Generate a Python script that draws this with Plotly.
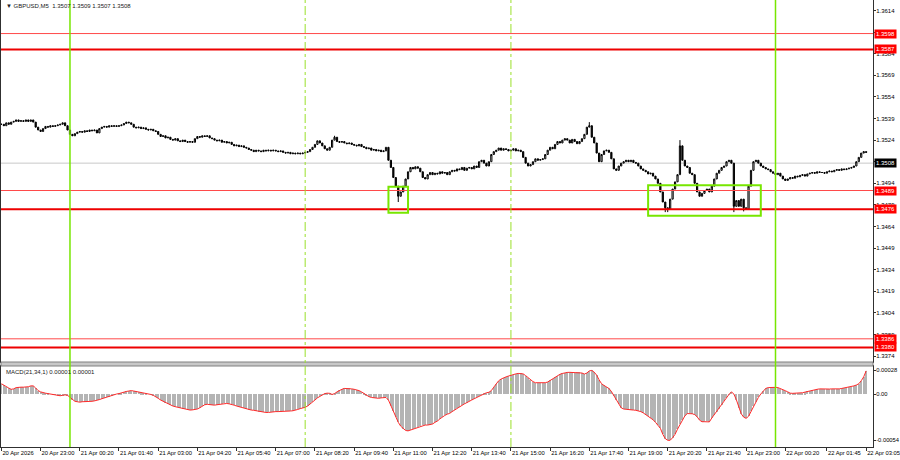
import plotly.graph_objects as go

# ---------------- data ----------------
BASE = 1.3500
# close of each M5 bar, in pips relative to 1.3500
closes_pips = [
    35, 34, 36, 35, 36.5, 37, 38, 37, 37.5, 37,
    38, 37, 38, 36.5, 33, 31, 30, 32, 33.5, 33,
    34, 33.5, 34, 34.5, 35, 36, 34, 31, 28, 27,
    28.5, 29.5, 30, 29.5, 30.5, 30, 31, 30.5, 31, 29,
    32, 33, 33.5, 33, 34, 33.5, 34, 33.5, 34, 34.5,
    35.5, 36.5, 36, 35, 33, 32.5, 33, 32, 32.5, 31.5,
    31, 31.5, 30.5, 30, 28, 26.5, 27, 25.5, 26, 24.5,
    24, 25, 23.5, 23, 24, 23, 22.5, 23, 22.5, 25,
    26.5, 26, 27, 26.5, 27, 25.5, 25, 24, 23.5, 24,
    22.5, 23, 22, 22.5, 21, 20, 20.5, 19.5, 20, 19,
    18.5, 17.5, 17, 16, 17, 16.5, 16, 17, 16.5, 17,
    16.5, 17, 16.5, 16, 16.5, 15.5, 15, 15.5, 14.5, 15,
    14.5, 15, 14.5, 15, 15.5, 16, 17.5, 19, 21, 23.5,
    22, 20, 18, 17, 19, 24, 26, 23, 22.5, 23,
    22, 21.5, 22, 21, 20.5, 20, 21, 19.5, 19, 18,
    18.5, 17, 17.5, 16.5, 17, 16, 16.5, 19, 10, 5,
    -2, -8, -15, -12, -8, -3, 2, 5, 4, 5.5,
    4.5, 2, -2, -3, 0, 1.5, 0, 1, 0.5, 2,
    1, 1.5, 0, 2, 3, 2.5, 4, 3.5, 5, 3,
    4.5, 5, 4, 6, 5, 9, 10, 8, 6, 9,
    14, 16, 17, 18.5, 17, 18, 17.5, 16.5, 17, 18,
    16.5, 17, 16, 12, 8, 6, 7, 9, 11, 10,
    10.5, 11, 14, 17, 19, 18, 21, 23, 22, 24,
    25, 24, 22, 24.5, 23, 21.5, 23, 25, 28, 33,
    34, 26, 22, 15, 9, 14, 16.5, 17, 15.5, 11,
    4, 3, 6, 8, 9, 10, 9, 10, 8.5, 8,
    6, 4, 3, 2, 0.5, 1, -1, -3, -6, -12,
    -19, -23, -24, -17, -10, -5, 0, 20, 10, 6,
    5, 1, 0, -6, -12, -15, -13, -11, -10, -12,
    -8, -3, 1, 3, 5, 6, 9, 10, 8, -22,
    -18, -22, -17, -23, -24, -8, 3, 9, 10, 8,
    6, 5, 4, 3.5, 2, 1, 0, 1, -1, -3,
    -4, -3, -2, -2.5, -1, -1.5, -0.5, 0, -1, 0.5,
    1, 1.5, 1, 2, 1.5, 1.5, 1, 2, 2.5, 2,
    3, 3.5, 3, 4, 3.5, 4, 4.5, 5, 6, 9,
    12, 15, 16, 15.5,
]
# notable wicks (bar index, pips)
wick_high_idx = [136, 240, 277]
wick_high_val = [27, 36.5, 24]
wick_low_idx = [162, 271, 272, 299, 303]
wick_low_val = [-19, -26, -26, -26, -25.5]

# MACD(21,34,1) main value per bar, in units of 1e-5
macd_e5 = [
    12, 10, 8.5, 7, 5.5, 6, 7.5, 8, 8, 8,
    8, 8.5, 9.5, 9.5, 7, 4, 2.5, 1.5, 1, 0.5,
    0, -0.5, -1, -1.5, -2, -1.5, -1, -1.5, -4, -7,
    -8.5, -9, -9.5, -9, -9, -9, -8.5, -8.5, -8, -7.5,
    -6.5, -5.5, -4.5, -3.5, -3, -2, -1, 0, 0.5, 1.5,
    2.5, 3, 3.5, 4, 3.5, 3, 2.5, 2, 1.5, 0.5,
    0, -0.5, -1.5, -3, -5, -7, -8.5, -10, -11.5, -13,
    -14, -14.8, -15.5, -16.5, -17, -17.5, -18.5, -18.7, -18.5, -18,
    -17.5, -16, -14, -12.5, -12, -12.5, -13, -13, -12.5, -12,
    -11.5, -11, -11, -11.5, -12, -13, -14, -14.8, -15.5, -16.5,
    -17.5, -18.5, -18.7, -19, -19.5, -20.5, -21, -21.5, -21.5, -21.5,
    -21, -20.6, -20.5, -20.5, -20.5, -20, -20, -20, -19.8, -19.5,
    -19, -18, -17, -16.5, -15.5, -14, -12, -9.5, -7, -4.5,
    -2.5, -0.5, 0.5, 1, 0.8, -0.5, 0.5, 2.5, 4.5, 5.5,
    6.5, 6.6, 6.5, 6, 5.5, 5, 4, 2.5, 0.5, -1.5,
    -3, -4, -4.5, -5, -5, -4.5, -4.5, -4, -7, -14,
    -20, -27, -33, -37.5, -40.5, -42.5, -43, -42, -40.5, -39.5,
    -38.5, -37.5, -36.5, -36.2, -36.2, -36, -35, -33, -31.5, -29,
    -26.5, -25, -23.5, -22.6, -20.5, -18.5, -16.5, -14.8, -13, -11.5,
    -10, -8, -7, -5.5, -4, -2.5, -0.5, 0.5, 1.5, 2,
    4, 8, 12, 15.5, 17.5, 19, 20, 21, 22, 22.5,
    23.5, 24, 24, 23.5, 21.5, 19, 16.5, 14.5, 13.2, 13,
    13, 13, 13.2, 14, 16, 18, 20, 21.5, 23, 24,
    24.9, 25.2, 25.3, 25.3, 25, 25.3, 25.3, 24.5, 23.3, 24.5,
    27, 27.5, 25.5, 22, 16.5, 12, 10, 8, 6.5, 3,
    -2, -7.5, -12, -16, -17.5, -18, -18.5, -18.7, -18.7, -19,
    -19.4, -20.5, -22, -24, -25.5, -27.5, -30, -33, -36, -40,
    -47, -52, -54, -54, -51, -47, -41, -35.5, -30, -25.5,
    -22.8, -22.6, -23, -24, -26.5, -30.5, -32.3, -32.3, -32, -32.5,
    -28, -24, -21, -17, -12.5, -8.5, -4.5, -0.5, 2.5, 0,
    -6.5, -16, -23, -27, -28.4, -26, -20, -14.5, -9, -4,
    0, 4, 6.5, 7.5, 7.8, 8, 7.8, 7.5, 6, 4.5,
    3.9, 2.5, 1, 0.8, 0.8, 0.8, 0.8, 1.5, 2.2, 3,
    3.7, 4.3, 5, 5.5, 6, 5.8, 5.8, 5.6, 5.8, 6,
    5.8, 5.5, 6, 6.5, 7, 7.5, 8, 8.5, 9.5, 10.5,
    12, 15.5, 20, 27,
]

time_tick_idx = [0, 16, 32, 48, 64, 80, 96, 112, 128, 144, 160, 176, 192, 208,
                 224, 240, 256, 272, 288, 304, 320, 337, 353]
time_tick_text = ["20 Apr 2026", "20 Apr 23:00", "21 Apr 00:20", "21 Apr 01:40",
                  "21 Apr 03:00", "21 Apr 04:20", "21 Apr 05:40", "21 Apr 07:00",
                  "21 Apr 08:20", "21 Apr 09:40", "21 Apr 11:00", "21 Apr 12:20",
                  "21 Apr 13:40", "21 Apr 15:00", "21 Apr 16:20", "21 Apr 17:40",
                  "21 Apr 19:00", "21 Apr 20:20", "21 Apr 21:40", "21 Apr 23:00",
                  "22 Apr 00:20", "22 Apr 01:45", "22 Apr 03:05"]
price_ticks = [1.3374, 1.3389, 1.3404, 1.3419, 1.3434, 1.3449, 1.3464, 1.3479,
               1.3494, 1.3509, 1.3524, 1.3539, 1.3554, 1.3569, 1.3584, 1.3599, 1.3614]
macd_ticks = [0.00028, 0.0, -0.00054]
macd_tick_text = ["0.00028", "0.00", "-0.00054"]

levels_thin = [1.3598, 1.3489, 1.3386]
levels_thick = [1.3587, 1.3476, 1.3380]
bid_price = 1.3508
day_sep_idx = [28, 316]
session_idx = [124, 208]
box1_idx = [158, 166]
box1_price = [1.34916, 1.34736]
box2_idx = [264, 310]
box2_price = [1.34926, 1.34715]
header = "▼ GBPUSD,M5  1.3507 1.3509 1.3507 1.3508"
macd_title = "MACD(21,34,1) 0.00001 0.00001"

# ---------------- build ----------------
n = len(closes_pips)
xs = list(range(n))
close = [BASE + v / 10000 for v in closes_pips]
open_ = [close[0]] + close[:-1]
high = [max(a, b) for a, b in zip(open_, close)]
low = [min(a, b) for a, b in zip(open_, close)]
for i, v in zip(wick_high_idx, wick_high_val):
    high[i] = max(high[i], BASE + v / 10000)
for i, v in zip(wick_low_idx, wick_low_val):
    low[i] = min(low[i], BASE + v / 10000)
macd = [v * 1e-5 for v in macd_e5]

FONT = "Liberation Sans, Arial, sans-serif"
FS = 6
GREEN = "#77e600"

fig = go.Figure()
fig.add_trace(go.Candlestick(
    x=xs, open=open_, high=high, low=low, close=close,
    increasing=dict(line=dict(color="black", width=1), fillcolor="white"),
    decreasing=dict(line=dict(color="black", width=1), fillcolor="black"),
    whiskerwidth=0, xaxis="x", yaxis="y", showlegend=False, hoverinfo="skip"))
fig.add_trace(go.Bar(x=xs, y=macd, marker=dict(color="#b4b4b4", line=dict(width=0)),
                     width=0.45, xaxis="x2", yaxis="y2", showlegend=False, hoverinfo="skip"))
fig.add_trace(go.Scatter(x=xs, y=macd, mode="lines", line=dict(color="#ff2a2a", width=1),
                         xaxis="x2", yaxis="y2", showlegend=False, hoverinfo="skip"))

H_TOP = 447.0
main_dom = [(H_TOP - 362) / H_TOP, 1.0]
macd_dom = [0.0, (H_TOP - 366) / H_TOP]
xr = [-0.16, 355.8]

shapes = []
# panel separator
shapes.append(dict(type="rect", xref="paper", yref="paper", x0=0, x1=1,
                   y0=macd_dom[1], y1=main_dom[0], fillcolor="#c8c8c8",
                   line=dict(color="#808080", width=1), layer="above"))
# bid line
shapes.append(dict(type="line", xref="paper", yref="y", x0=0, x1=1, y0=bid_price, y1=bid_price,
                   line=dict(color="#c8c8c8", width=1), layer="below"))
for lv in levels_thin:
    shapes.append(dict(type="line", xref="paper", yref="y", x0=0, x1=1, y0=lv, y1=lv,
                       line=dict(color="#ff4a4a", width=1)))
for lv in levels_thick:
    shapes.append(dict(type="line", xref="paper", yref="y", x0=0, x1=1, y0=lv, y1=lv,
                       line=dict(color="#ee0000", width=2)))
for xi in day_sep_idx:
    shapes.append(dict(type="line", xref="x", yref="paper", x0=xi, x1=xi, y0=0, y1=1,
                       line=dict(color=GREEN, width=1.5)))
for xi in session_idx:
    shapes.append(dict(type="line", xref="x", yref="paper", x0=xi, x1=xi, y0=0, y1=1,
                       line=dict(color="#9ae02a", width=1, dash="dashdot")))
for bi, bp in [(box1_idx, box1_price), (box2_idx, box2_price)]:
    shapes.append(dict(type="rect", xref="x", yref="y", x0=bi[0], x1=bi[1], y0=bp[1], y1=bp[0],
                       line=dict(color=GREEN, width=2), fillcolor="rgba(0,0,0,0)"))

annotations = [
    dict(xref="paper", yref="paper", x=0.004, y=1, xanchor="left", yanchor="top", yshift=-1,
         text=header, showarrow=False, font=dict(family=FONT, size=FS, color="#202020")),
    dict(xref="paper", yref="paper", x=0.004, y=macd_dom[1], xanchor="left", yanchor="top",
         yshift=-1, text=macd_title, showarrow=False, font=dict(family=FONT, size=FS, color="#202020")),
]
for lv in levels_thin + levels_thick:
    annotations.append(dict(xref="paper", yref="y", x=1, y=lv, xanchor="left", yanchor="middle",
                            xshift=1, text=f"{lv:.4f}", showarrow=False, bgcolor="#ff0000",
                            borderpad=1, font=dict(family=FONT, size=FS, color="white")))
annotations.append(dict(xref="paper", yref="y", x=1, y=bid_price, xanchor="left", yanchor="middle",
                        xshift=1, text=f"{bid_price:.4f}", showarrow=False, bgcolor="#000000",
                        borderpad=1, font=dict(family=FONT, size=FS, color="white")))

axis_common = dict(showgrid=False, zeroline=False, showline=True, mirror=True,
                   linecolor="#303030", linewidth=1)
fig.update_layout(
    width=900, height=460,
    margin=dict(l=1, r=27, t=0, b=13, autoexpand=False),
    paper_bgcolor="white", plot_bgcolor="white",
    font=dict(family=FONT, size=FS, color="black"),
    bargap=0,
    xaxis=dict(domain=[0, 1], anchor="y", range=xr, showticklabels=False, ticks="",
               rangeslider=dict(visible=False), **axis_common),
    yaxis=dict(domain=main_dom, anchor="x", side="right", range=[1.33699, 1.36213],
               tickvals=price_ticks, tickformat=".4f", ticks="outside", ticklen=2,
               ticklabelstandoff=-1,
               tickcolor="#303030", tickfont=dict(family=FONT, size=FS, color="black"),
               automargin=False, **axis_common),
    xaxis2=dict(domain=[0, 1], anchor="y2", matches="x", range=xr,
                tickvals=time_tick_idx, ticktext=time_tick_text, ticks="outside", ticklen=3,
                tickangle=0, automargin=False, ticklabeloverflow="allow",
                tickcolor="#303030", ticklabelposition="outside right",
                tickfont=dict(family=FONT, size=5.8, color="black"), **axis_common),
    yaxis2=dict(domain=macd_dom, anchor="x2", side="right", range=[-0.000618, 0.000327],
                tickvals=macd_ticks, ticktext=macd_tick_text, ticks="outside", ticklen=2,
                ticklabelstandoff=-1, ticklabeloverflow="allow",
                automargin=False,
                tickcolor="#303030", tickfont=dict(family=FONT, size=5.8, color="black"),
                **axis_common),
    shapes=shapes, annotations=annotations,
)

fig.write_html("out.html", config={"displayModeBar": False},
               post_script="document.body.style.margin='0';document.body.style.padding='0';")
